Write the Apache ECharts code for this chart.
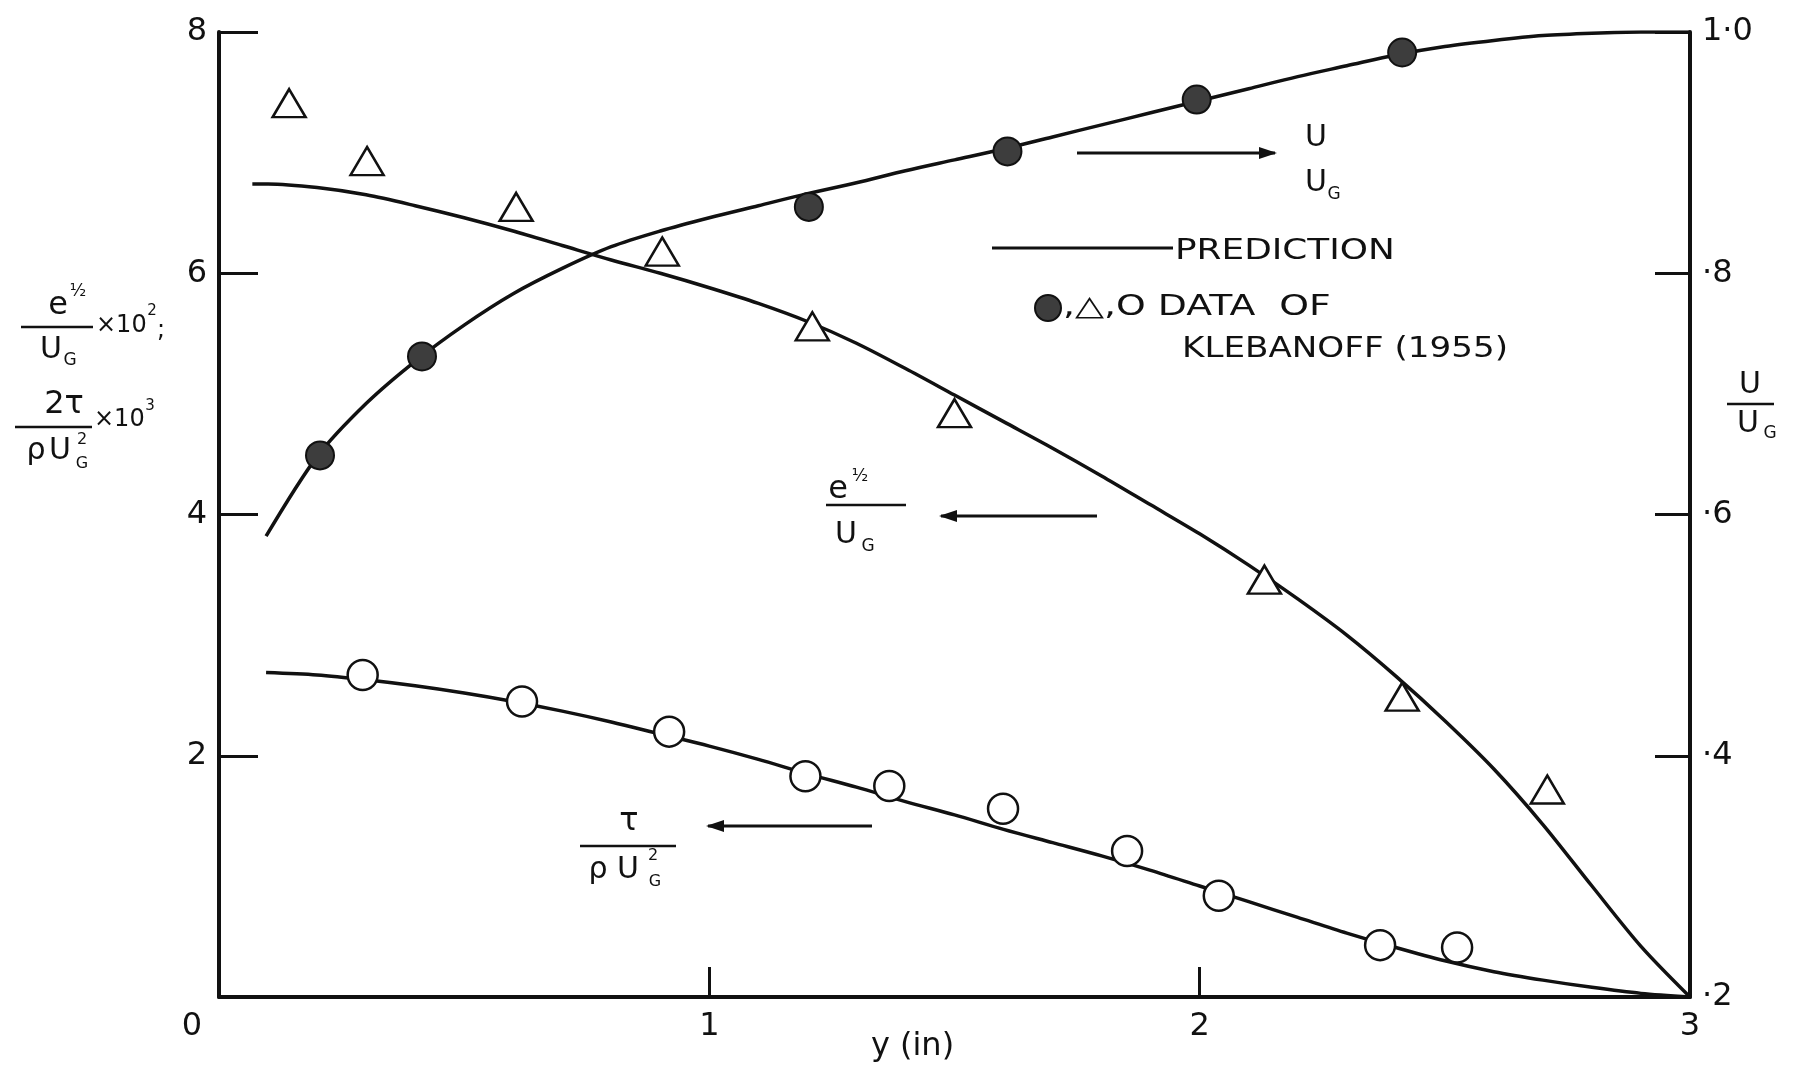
<!DOCTYPE html>
<html>
<head>
<meta charset="utf-8">
<title>Boundary layer prediction vs Klebanoff (1955)</title>
<script src="https://cdn.jsdelivr.net/npm/echarts@6/dist/echarts.min.js"></script>
<style>
  html, body { margin: 0; padding: 0; background: #fff; }
  #chart { width: 1799px; height: 1068px; }
</style>
</head>
<body>
<div id="chart"></div>
<script>
// ---- data (y in inches) ----
// prediction curves
var predUx = [0.096, 0.2, 0.3, 0.4, 0.5, 0.6, 0.7, 0.8, 0.9, 1.0, 1.1, 1.2, 1.3, 1.4, 1.5, 1.6, 1.7, 1.8, 1.9, 2.0, 2.1, 2.2, 2.3, 2.4, 2.5, 2.6, 2.7, 2.8, 2.9, 3.0];
var predU  = [0.582, 0.648, 0.692, 0.727, 0.757, 0.783, 0.804, 0.822, 0.835, 0.846, 0.856, 0.866, 0.875, 0.885, 0.894, 0.903, 0.913, 0.923, 0.933, 0.943, 0.953, 0.963, 0.972, 0.981, 0.988, 0.993, 0.997, 0.999, 1.0, 1.0];
var predEx = [0.068, 0.1, 0.2, 0.3, 0.4, 0.5, 0.6, 0.7, 0.8, 0.9, 1.0, 1.1, 1.2, 1.3, 1.4, 1.5, 1.6, 1.7, 1.8, 1.9, 2.0, 2.1, 2.2, 2.3, 2.4, 2.5, 2.6, 2.7, 2.8, 2.9, 3.0];
var predE  = [6.74, 6.74, 6.71, 6.65, 6.56, 6.46, 6.35, 6.23, 6.11, 6.00, 5.88, 5.75, 5.60, 5.42, 5.21, 4.99, 4.77, 4.55, 4.32, 4.08, 3.84, 3.58, 3.30, 3.00, 2.66, 2.29, 1.89, 1.43, 0.92, 0.42, 0.0];
var predTx = [0.096, 0.2, 0.3, 0.4, 0.5, 0.6, 0.7, 0.8, 0.9, 1.0, 1.1, 1.2, 1.3, 1.4, 1.5, 1.6, 1.7, 1.8, 1.9, 2.0, 2.1, 2.2, 2.3, 2.4, 2.5, 2.6, 2.7, 2.8, 2.9, 3.0];
var predT  = [2.69, 2.67, 2.63, 2.58, 2.52, 2.45, 2.37, 2.28, 2.18, 2.08, 1.97, 1.85, 1.74, 1.62, 1.51, 1.39, 1.28, 1.17, 1.05, 0.92, 0.79, 0.66, 0.53, 0.41, 0.30, 0.21, 0.14, 0.08, 0.03, 0.0];

// Klebanoff (1955) data
var dataUx = [0.206, 0.414, 1.203, 1.608, 1.994, 2.413];
var dataU  = [0.649, 0.731, 0.855, 0.901, 0.944, 0.983];
var dataEx = [0.143, 0.302, 0.606, 0.904, 1.210, 1.500, 2.132, 2.413, 2.709];
var dataE  = [7.41, 6.93, 6.55, 6.18, 5.56, 4.84, 3.46, 2.49, 1.72];
var dataTx = [0.293, 0.618, 0.918, 1.196, 1.367, 1.599, 1.852, 2.039, 2.368, 2.525];
var dataT  = [2.67, 2.45, 2.20, 1.83, 1.75, 1.56, 1.21, 0.84, 0.43, 0.41];

// tick labels
var xTickLabels     = ['0', '1', '2', '3'];
var leftTickLabels  = ['', '2', '4', '6', '8'];
var rightTickLabels = ['·2', '·4', '·6', '·8', '1·0'];

function zip(xs, ys) { return xs.map(function (x, i) { return [x, ys[i]]; }); }

var INK = '#111';
var FONT = 'DejaVu Sans';

// ---- annotation helpers (pixel layout) ----
function T(x, y, s, size, align, sx) {
  return {
    type: 'text', x: x, y: y, z: 100, scaleX: sx || 1,
    style: {
      text: s, fontSize: size, fontFamily: FONT, fill: INK,
      textAlign: align || 'center', textVerticalAlign: 'middle',
      align: align || 'center', verticalAlign: 'middle'
    }
  };
}
function L(x1, y1, x2, y2, w) {
  return { type: 'line', z: 100, shape: { x1: x1, y1: y1, x2: x2, y2: y2 }, style: { stroke: INK, lineWidth: w || 3 } };
}
function head(x, y, dir) {
  return { type: 'polygon', z: 100, shape: { points: [[x, y], [x - dir * 18, y - 6], [x - dir * 18, y + 6]] }, style: { fill: INK } };
}

var notes = [
  // left axis title
  T(58, 306, 'e', 32), T(78, 292, '½', 17),
  L(21, 327, 93, 327, 2.5),
  T(51, 350, 'U', 30), T(70, 361, 'G', 17),
  T(96, 326, '×10', 24, 'left'), T(152, 311, '2', 15), T(161, 331, ';', 24),
  T(64, 405, '2τ', 32),
  L(15, 427, 92, 427, 2.5),
  T(36, 451, 'ρ', 30), T(60, 451, 'U', 30), T(82, 464, 'G', 16), T(82, 440, '2', 16),
  T(94, 420, '×10', 24, 'left'), T(150, 406, '3', 15),
  // right axis title
  T(1750, 385, 'U', 30),
  L(1727, 404, 1774, 404, 2.5),
  T(1748, 424, 'U', 30), T(1770, 434, 'G', 17),
  // U/UG annotation with arrow to the right
  L(1077, 153, 1275, 153, 3), head(1277, 153, 1),
  T(1316, 138, 'U', 30), T(1316, 183, 'U', 30), T(1334, 195, 'G', 17),
  // e/UG annotation with arrow to the left
  T(838, 490, 'e', 32), T(860, 477, '½', 17),
  L(826, 505, 906, 505, 2.5),
  T(846, 535, 'U', 30), T(868, 547, 'G', 17),
  L(941, 516, 1097, 516, 3), head(939, 516, -1),
  // tau annotation with arrow to the left
  T(629, 822, 'τ', 32),
  L(580, 846, 676, 846, 2.5),
  T(598, 870, 'ρ', 30), T(628, 870, 'U', 30), T(653, 856, '2', 16), T(655, 882, 'G', 16),
  L(708, 826, 872, 826, 3), head(706, 826, -1),
  // legend
  L(992, 248, 1173, 248, 3),
  T(1175, 252, 'PREDICTION', 28, 'left', 1.28),
  { type: 'circle', z: 100, shape: { cx: 1048, cy: 308, r: 13 }, style: { fill: '#3d3d3d', stroke: INK, lineWidth: 2 } },
  T(1063, 308, ',△,O DATA  OF', 28, 'left', 1.35),
  T(1182, 350, 'KLEBANOFF (1955)', 28, 'left', 1.22)
];

var chart = echarts.init(document.getElementById('chart'), null, { renderer: 'canvas' });

var lineBase = { type: 'line', smooth: 0.3, showSymbol: false, z: 3, lineStyle: { color: INK, width: 3.5 } };

var option = {
  animation: false,
  backgroundColor: '#fff',
  grid: { left: 219, right: 109, top: 32, bottom: 71, containLabel: false, outerBoundsMode: 'none' },
  xAxis: {
    type: 'value', min: 0, max: 3, interval: 1,
    name: 'y (in)', nameLocation: 'middle', nameGap: 34, nameMoveOverlap: false,
    nameTextStyle: { color: INK, fontSize: 32, fontFamily: FONT, padding: [0, 84, 0, 0] },
    axisLine: { show: true, onZero: false, lineStyle: { color: INK, width: 4 } },
    axisTick: { show: true, inside: true, length: 30, lineStyle: { color: INK, width: 3 } },
    splitLine: { show: false },
    axisLabel: {
      color: INK, fontSize: 32, fontFamily: FONT, margin: 14,
      showMinLabel: true, showMaxLabel: true,
      formatter: function (v) {
        var s = xTickLabels[Math.round(v)];
        return Math.round(v) === 0 ? '{z|' + s + '}' : s;
      },
      rich: { z: { fontSize: 32, fontFamily: FONT, color: INK, padding: [0, 54, 16, 0] } }
    }
  },
  yAxis: [
    {
      type: 'value', min: 0, max: 8, interval: 2, position: 'left',
      axisLine: { show: true, onZero: false, lineStyle: { color: INK, width: 4 } },
      axisTick: { show: true, inside: true, length: 39, lineStyle: { color: INK, width: 3 } },
      splitLine: { show: false },
      axisLabel: {
        color: INK, fontSize: 32, fontFamily: FONT, margin: 12,
        formatter: function (v) { return leftTickLabels[Math.round(v / 2)]; }
      }
    },
    {
      type: 'value', min: 0.2, max: 1.0, interval: 0.2, position: 'right',
      axisLine: { show: true, onZero: false, lineStyle: { color: INK, width: 4 } },
      axisTick: { show: true, inside: true, length: 35, lineStyle: { color: INK, width: 3 } },
      splitLine: { show: false },
      axisLabel: {
        color: INK, fontSize: 32, fontFamily: FONT, margin: 12,
        formatter: function (v) { return rightTickLabels[Math.round((v - 0.2) / 0.2)]; }
      }
    }
  ],
  series: [
    Object.assign({}, lineBase, { name: 'U/UG prediction', yAxisIndex: 1, data: zip(predUx, predU) }),
    Object.assign({}, lineBase, { name: 'e/UG prediction', yAxisIndex: 0, data: zip(predEx, predE) }),
    Object.assign({}, lineBase, { name: 'tau prediction', yAxisIndex: 0, data: zip(predTx, predT) }),
    {
      name: 'U/UG data', type: 'scatter', yAxisIndex: 1, symbol: 'circle', symbolSize: 28, z: 5,
      itemStyle: { color: '#3d3d3d', borderColor: INK, borderWidth: 2, opacity: 1 }, data: zip(dataUx, dataU)
    },
    {
      name: 'e/UG data', type: 'scatter', yAxisIndex: 0, symbol: 'triangle', symbolSize: [33, 28], z: 5,
      itemStyle: { color: '#fff', borderColor: INK, borderWidth: 2.5, opacity: 1 }, data: zip(dataEx, dataE)
    },
    {
      name: 'tau data', type: 'scatter', yAxisIndex: 0, symbol: 'circle', symbolSize: 30, z: 5,
      itemStyle: { color: '#fff', borderColor: INK, borderWidth: 2.5, opacity: 1 }, data: zip(dataTx, dataT)
    }
  ],
  graphic: { elements: notes }
};

chart.setOption(option);
</script>
</body>
</html>
